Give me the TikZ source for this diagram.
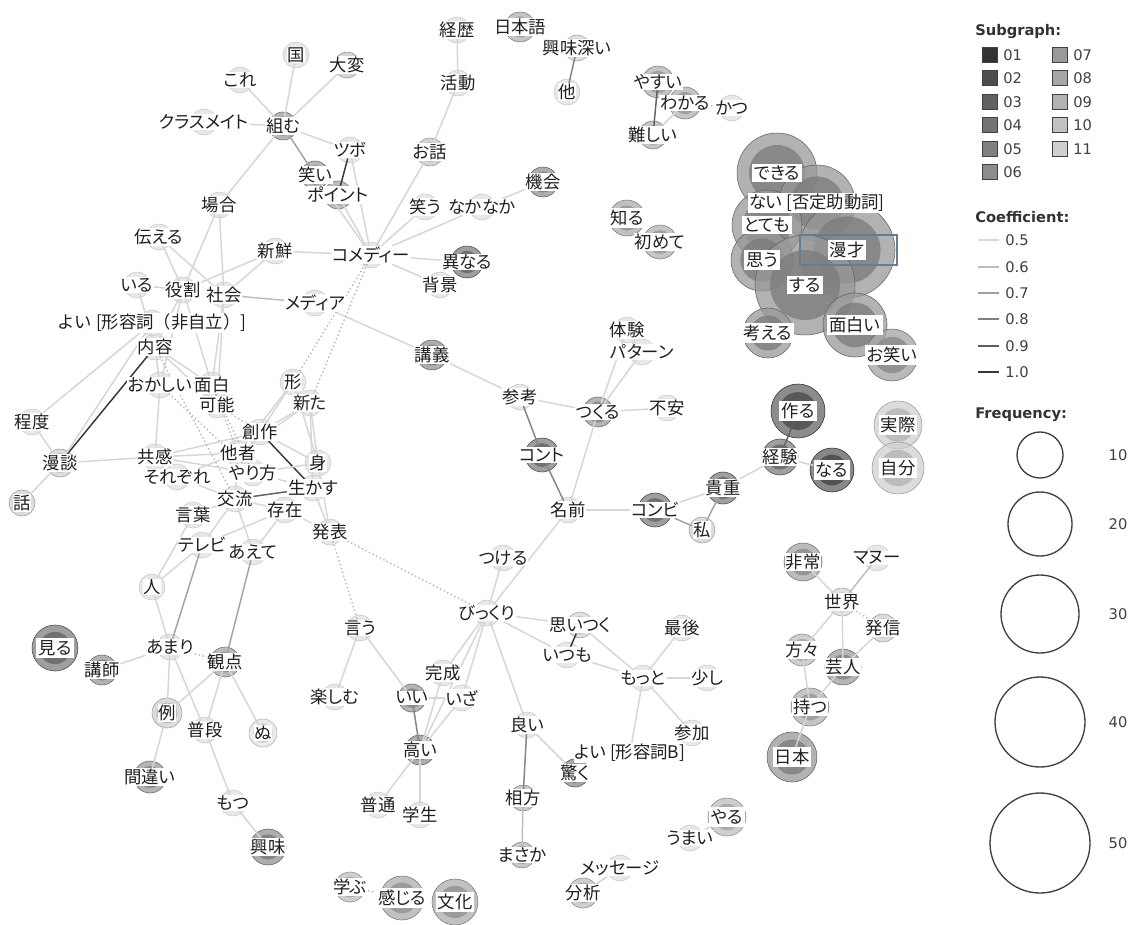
\documentclass[tikz,border=0pt]{standalone}
\usepackage{fontspec}
\newfontfamily\jp[RawFeature=+palt]{Noto Sans CJK JP}
\newfontfamily\jpw{Noto Sans CJK JP}
\newfontfamily\legf{DejaVu Sans}
\pgfdeclarelayer{bg}
\pgfdeclarelayer{bub}
\pgfdeclarelayer{edg}
\pgfsetlayers{bg,bub,edg,main}
\newcommand\bub[3]{%
  \pgfmathtruncatemacro\bubin{min(#3+12,92)}%
  \pgfmathtruncatemacro\bubln{min(#3+22,92)}%
  \fill[black!#3,fill opacity=.75] (#1.center) circle (#2);%
  \fill[black!\bubin,fill opacity=.75] (#1.center) circle ({0.7*#2});%
  \draw[black!\bubln,line width=.4pt] (#1.center) circle (#2);}
\newcommand\fbub[2]{%
  \fill[black!9] (#1.center) circle (#2);%
  \draw[black!22,line width=.4pt] (#1.center) circle (#2);}
\begin{document}
\begin{tikzpicture}[x=0.75pt,y=-0.75pt,
  lbl/.style={font=\jp\fontsize{13}{15}\selectfont,fill=white,inner sep=0.6pt,text=black!88},
  blbl/.style={lbl,inner sep=1.6pt},
  ec5/.style={draw=black!16,line width=1.1pt},
  ec6/.style={draw=black!26,line width=1.1pt},
  ec7/.style={draw=black!36,line width=1.1pt},
  ec8/.style={draw=black!48,line width=1.1pt},
  ec9/.style={draw=black!62,line width=1.1pt},
  ec10/.style={draw=black!78,line width=1.1pt},
  edot/.style={draw=black!30,line width=1pt,dotted},
  ltitle/.style={font=\legf\bfseries\fontsize{11}{13}\selectfont,text=black!80,anchor=west,inner sep=0pt},
  ltext/.style={font=\legf\fontsize{11}{13}\selectfont,text=black!75,anchor=west,inner sep=0pt},
  sq/.style={draw=black!75,line width=0.6pt,minimum size=11.5pt,inner sep=0pt},
  fq/.style={draw=black!75,line width=1pt}]
\useasboundingbox (0,0) rectangle (1130,924);
\begin{pgfonlayer}{bg}
\fill[white] (0,0) rectangle (1130,924);
\end{pgfonlayer}

% ---------------- labels ----------------
\node[lbl] (kore) at (240,80) {これ};
\node[lbl] (kuni) at (296,55) {国};
\node[lbl] (taihen) at (347,65) {大変};
\node[lbl] (class) at (204,122) {クラスメイト};
\node[lbl] (kumu) at (283,126) {組む};
\node[lbl] (tsubo) at (350,150) {ツボ};
\node[lbl] (warai) at (315,175) {笑い};
\node[lbl] (point) at (338,195) {ポイント};
\node[lbl] (baai) at (219,205) {場合};
\node[lbl] (tsutaeru) at (159,237) {伝える};
\node[lbl] (shinsen) at (275,251) {新鮮};
\node[lbl] (comedy) at (371,255) {コメディー};
\node[lbl] (iru) at (137,285) {いる};
\node[lbl] (yakuwari) at (183,290) {役割};
\node[lbl] (shakai) at (224,295) {社会};
\node[lbl] (media) at (315,303) {メディア};
\node[lbl,font=\jpw\fontsize{13}{15}\selectfont] (yoi1) at (152,323) {よい [形容詞（非自立）]};
\node[lbl] (naiyou) at (155,347) {内容};
\node[lbl] (okashii) at (160,385) {おかしい};
\node[lbl] (omoshiro) at (212,385) {面白};
\node[lbl] (kanou) at (217,405) {可能};
\node[lbl] (katachi) at (293,382) {形};
\node[lbl] (arata) at (310,403) {新た};
\node[lbl] (sousaku) at (260,432) {創作};
\node[lbl] (teido) at (32,422) {程度};
\node[lbl] (mandan) at (60,463) {漫談};
\node[lbl] (hanashi) at (22,503) {話};
\node[lbl] (kyoukan) at (155,457) {共感};
\node[lbl] (sorezore) at (177,477) {それぞれ};
\node[lbl] (tasha) at (238,453) {他者};
\node[lbl] (yarikata) at (253,473) {やり方};
\node[lbl] (mi) at (318,463) {身};
\node[lbl] (ikasu) at (313,488) {生かす};
\node[lbl] (kouryu) at (235,499) {交流};
\node[lbl] (sonzai) at (285,510) {存在};
\node[lbl] (kotoba) at (193,515) {言葉};
\node[lbl] (happyou) at (330,532) {発表};
\node[lbl] (terebi) at (202,545) {テレビ};
\node[lbl] (aete) at (253,552) {あえて};
\node[lbl] (hito) at (152,587) {人};
\node[lbl] (amari) at (170,647) {あまり};
\node[lbl] (kanten) at (225,662) {観点};
\node[blbl] (miru) at (55,648) {見る};
\node[lbl] (koushi) at (102,670) {講師};
\node[lbl] (rei) at (167,713) {例};
\node[lbl] (fudan) at (205,730) {普段};
\node[lbl] (nu) at (263,733) {ぬ};
\node[lbl] (machigai) at (150,777) {間違い};
\node[lbl] (motsu) at (233,803) {もつ};
\node[lbl] (kyoumi) at (268,847) {興味};
\node[lbl] (manabu) at (350,887) {学ぶ};
\node[blbl] (kanjiru) at (402,898) {感じる};
\node[blbl] (bunka) at (455,902) {文化};
\node[lbl] (tanoshimu) at (335,697) {楽しむ};
\node[lbl] (iu) at (360,628) {言う};

\node[lbl] (keireki) at (457,30) {経歴};
\node[lbl] (nihongo) at (520,27) {日本語};
\node[lbl] (kyoumibukai) at (577,48) {興味深い};
\node[lbl] (hoka) at (567,92) {他};
\node[lbl] (katsudou) at (458,83) {活動};
\node[lbl] (ohanashi) at (430,152) {お話};
\node[lbl] (kikai) at (543,182) {機会};
\node[lbl] (warau) at (425,207) {笑う};
\node[lbl] (nakanaka) at (482,207) {なかなか};
\node[lbl] (kotonaru) at (467,262) {異なる};
\node[lbl] (haikei) at (440,285) {背景};
\node[lbl] (yasui) at (658,82) {やすい};
\node[lbl] (wakaru) at (685,103) {わかる};
\node[lbl] (katsu) at (732,108) {かつ};
\node[lbl] (muzukashii) at (653,135) {難しい};
\node[blbl] (shiru) at (627,218) {知る};
\node[lbl] (hajimete) at (660,242) {初めて};
\node[lbl] (kougi) at (432,355) {講義};
\node[lbl] (sankou) at (520,397) {参考};
\node[lbl] (taiken) at (627,330) {体験};
\node[lbl] (pattern) at (642,352) {パターン};
\node[lbl] (tsukuru) at (598,412) {つくる};
\node[lbl] (fuan) at (667,408) {不安};
\node[lbl] (conte) at (542,455) {コント};
\node[lbl] (namae) at (568,510) {名前};
\node[lbl] (combi) at (655,510) {コンビ};
\node[lbl] (kichou) at (723,488) {貴重};
\node[lbl] (watashi) at (702,530) {私};
\node[lbl] (tsukeru) at (503,558) {つける};
\node[lbl] (bikkuri) at (487,613) {びっくり};
\node[lbl] (omoitsuku) at (580,625) {思いつく};
\node[lbl] (itsumo) at (567,655) {いつも};
\node[lbl] (saigo) at (682,628) {最後};
\node[lbl] (motto) at (643,678) {もっと};
\node[lbl] (sukoshi) at (707,678) {少し};
\node[lbl] (kansei) at (443,673) {完成};
\node[lbl] (ii) at (412,698) {いい};
\node[lbl] (iza) at (462,698) {いざ};
\node[lbl] (takai) at (420,750) {高い};
\node[lbl] (yoi2) at (527,725) {良い};
\node[lbl] (sanka) at (692,733) {参加};
\node[lbl] (yoib) at (630,753) {よい [形容詞B]};
\node[lbl] (odoroku) at (575,773) {驚く};
\node[lbl] (aikata) at (523,798) {相方};
\node[lbl] (futsuu) at (378,805) {普通};
\node[lbl] (gakusei) at (420,815) {学生};
\node[lbl] (masaka) at (522,855) {まさか};
\node[blbl] (yaru) at (727,817) {やる};
\node[lbl] (umai) at (690,838) {うまい};
\node[lbl] (message) at (620,868) {メッセージ};
\node[lbl] (bunseki) at (583,893) {分析};

\node[blbl] (dekiru) at (777,173) {できる};
\node[lbl] (nai) at (817,203) {ない [否定助動詞]};
\node[blbl] (totemo) at (767,225) {とても};
\node[blbl] (manzai) at (847,250) {漫才};
\node[blbl] (omou) at (762,260) {思う};
\node[blbl] (suru) at (805,285) {する};
\node[blbl] (kangaeru) at (768,333) {考える};
\node[blbl] (omoshiroi) at (855,325) {面白い};
\node[blbl] (owarai) at (892,355) {お笑い};
\node[blbl] (tsukuru2) at (798,411) {作る};
\node[lbl] (keiken) at (780,457) {経験};
\node[blbl] (naru) at (832,470) {なる};
\node[blbl] (jissai) at (898,425) {実際};
\node[blbl] (jibun) at (898,468) {自分};
\node[lbl] (hijou) at (803,562) {非常};
\node[lbl] (manu) at (877,558) {マヌー};
\node[lbl] (sekai) at (842,602) {世界};
\node[lbl] (hasshin) at (883,628) {発信};
\node[lbl] (katagata) at (802,650) {方々};
\node[lbl] (geinin) at (843,667) {芸人};
\node[lbl] (motsu2) at (810,707) {持つ};
\node[blbl] (nihon) at (792,757) {日本};

% ---------------- bubbles ----------------
\begin{pgfonlayer}{bub}
\foreach \n in {kore,kuni,class,tsubo,baai,tsutaeru,shinsen,comedy,iru,yakuwari,shakai,media,naiyou,okashii,omoshiro,kanou,katachi,arata,sousaku,teido,kyoukan,sorezore,tasha,yarikata,mi,ikasu,kouryu,sonzai,kotoba,happyou,terebi,aete,hito,amari,fudan,motsu,tanoshimu,iu,keireki,hoka,katsudou,warau,nakanaka,haikei,sankou,taiken,pattern,fuan,namae,tsukeru,bikkuri,itsumo,saigo,motto,sukoshi,kansei,iza,yoi2,sanka,futsuu,gakusei,umai,message,manu,katsu}{\fbub{\n}{13}}
\fbub{yoi1}{13}
\bub{taihen}{13}{22}
\bub{kumu}{14}{38}
\bub{warai}{14}{38}
\bub{point}{14}{34}
\bub{mandan}{14}{18}
\bub{hanashi}{13}{18}
\bub{kanten}{15}{35}
\bub{miru}{23}{50}
\bub{koushi}{15}{40}
\bub{rei}{15}{18}
\bub{nu}{14}{10}
\bub{machigai}{16}{38}
\bub{kyoumi}{18}{42}
\bub{manabu}{15}{25}
\bub{kanjiru}{22}{32}
\bub{bunka}{23}{32}
\bub{nihongo}{15}{30}
\bub{kyoumibukai}{13}{16}
\bub{ohanashi}{14}{22}
\bub{kikai}{15}{42}
\bub{kotonaru}{16}{50}
\bub{yasui}{16}{30}
\bub{wakaru}{16}{30}
\bub{muzukashii}{14}{30}
\bub{shiru}{18}{32}
\bub{hajimete}{17}{30}
\bub{kougi}{15}{42}
\bub{tsukuru}{15}{38}
\bub{conte}{17}{50}
\bub{combi}{17}{50}
\bub{kichou}{16}{50}
\bub{watashi}{13}{18}
\bub{omoitsuku}{13}{16}
\bub{ii}{14}{38}
\bub{takai}{15}{42}
\bub{odoroku}{14}{45}
\bub{aikata}{13}{28}
\bub{masaka}{13}{28}
\bub{yaru}{19}{25}
\bub{bunseki}{15}{25}
\bub{dekiru}{40}{40}
\bub{nai}{38}{40}
\bub{totemo}{35}{40}
\bub{manzai}{48}{40}
\bub{omou}{31}{40}
\bub{suru}{50}{40}
\bub{kangaeru}{25}{40}
\bub{omoshiroi}{32}{40}
\bub{owarai}{26}{36}
\bub{tsukuru2}{27}{60}
\bub{keiken}{18}{50}
\bub{naru}{22}{62}
\bub{jissai}{24}{18}
\bub{jibun}{26}{18}
\bub{hijou}{19}{35}
\bub{sekai}{14}{15}
\bub{hasshin}{14}{18}
\bub{katagata}{16}{25}
\bub{geinin}{18}{38}
\bub{motsu2}{19}{30}
\bub{nihon}{25}{40}
\end{pgfonlayer}
\draw[draw={rgb,255:red,100;green,124;blue,148},line width=0.8pt] (800,235) rectangle (897,265);

% ---------------- edges ----------------
\begin{pgfonlayer}{edg}
\draw[ec5] (kumu) -- (kore);
\draw[ec5] (kumu) -- (kuni);
\draw[ec5] (kumu) -- (taihen);
\draw[ec5] (kumu) -- (class);
\draw[ec5] (kumu) -- (tsubo);
\draw[ec7] (kumu) -- (warai);
\draw[ec5] (kumu) -- (baai);
\draw[ec10] (tsubo) -- (point);
\draw[ec5] (tsubo) -- (comedy);
\draw[ec5] (warai) -- (comedy);
\draw[ec5] (point) -- (comedy);
\draw[ec5] (baai) -- (yakuwari);
\draw[ec5] (baai) -- (shakai);
\draw[ec5] (tsutaeru) -- (yakuwari);
\draw[ec5] (tsutaeru) -- (shakai);
\draw[ec5] (shinsen) -- (yakuwari);
\draw[ec5] (shinsen) -- (shakai);
\draw[ec5] (shinsen) -- (comedy);
\draw[ec5] (iru) -- (yakuwari);
\draw[ec6] (shakai) -- (media);
\draw[ec5] (comedy) -- (ohanashi);
\draw[ec5] (comedy) -- (warau);
\draw[ec5] (comedy) -- (nakanaka);
\draw[ec5] (comedy) -- (kotonaru);
\draw[ec5] (comedy) -- (haikei);
\draw[ec5] (ohanashi) -- (katsudou);
\draw[ec5] (katsudou) -- (keireki);
\draw[ec5] (nakanaka) -- (kikai);
\draw[ec8] (kyoumibukai) -- (hoka);
\draw[ec9] (yasui) -- (muzukashii);
\draw[ec5] (muzukashii) -- (wakaru);
\draw[edot] (wakaru) -- (katsu);
\draw[ec5] (media) -- (kougi);
\draw[ec5] (kougi) -- (sankou);
\draw[ec5] (sankou) -- (tsukuru);
\draw[ec8] (sankou) -- (conte);
\draw[ec5] (tsukuru) -- (taiken);
\draw[ec5] (tsukuru) -- (pattern);
\draw[ec5] (tsukuru) -- (fuan);
\draw[ec5] (tsukuru) -- (namae);
\draw[ec8] (conte) -- (namae);
\draw[ec5] (namae) -- (combi);
\draw[ec5] (namae) -- (bikkuri);
\draw[ec5] (tsukeru) -- (bikkuri);
\draw[ec5] (combi) -- (kichou);
\draw[ec7] (combi) -- (watashi);
\draw[ec7] (kichou) -- (watashi);
\draw[ec5] (kichou) -- (keiken);
\draw[ec9] (keiken) -- (tsukuru2);
\draw[ec5] (keiken) -- (naru);
\draw[ec5] (bikkuri) -- (omoitsuku);
\draw[ec5] (bikkuri) -- (itsumo);
\draw[ec5] (bikkuri) -- (kansei);
\draw[ec5] (bikkuri) -- (takai);
\draw[ec5] (bikkuri) -- (iza);
\draw[ec5] (bikkuri) -- (yoi2);
\draw[ec10] (omoitsuku) -- (itsumo);
\draw[ec5] (omoitsuku) -- (motto);
\draw[ec5] (itsumo) -- (motto);
\draw[ec5] (motto) -- (saigo);
\draw[ec5] (motto) -- (sukoshi);
\draw[ec5] (motto) -- (sanka);
\draw[ec5] (motto) -- (yoib);
\draw[ec5] (kansei) -- (takai);
\draw[ec5] (iza) -- (takai);
\draw[ec5] (ii) -- (iza);
\draw[ec8] (ii) -- (takai);
\draw[ec5] (iu) -- (ii);
\draw[ec5] (iu) -- (tanoshimu);
\draw[ec5] (takai) -- (futsuu);
\draw[ec5] (takai) -- (gakusei);
\draw[ec8] (yoi2) -- (aikata);
\draw[ec5] (yoi2) -- (odoroku);
\draw[ec6] (aikata) -- (masaka);
\draw[ec5] (umai) -- (yaru);
\draw[ec5] (message) -- (bunseki);
\draw[edot] (manabu) -- (kanjiru);
\draw[ec5] (sekai) -- (katagata);
\draw[ec5] (sekai) -- (hijou);
\draw[ec6] (sekai) -- (manu);
\draw[ec5] (sekai) -- (geinin);
\draw[edot] (sekai) -- (hasshin);
\draw[ec5] (hasshin) -- (geinin);
\draw[ec5] (geinin) -- (motsu2);
\draw[ec5] (katagata) -- (motsu2);
\draw[ec5] (motsu2) -- (nihon);
% left
\draw[ec10] (naiyou) -- (mandan);
\draw[ec5] (yoi1) -- (mandan);
\draw[ec5] (yoi1) -- (teido);
\draw[ec5] (teido) -- (mandan);
\draw[ec5] (mandan) -- (hanashi);
\draw[ec5] (mandan) -- (kyoukan);
\draw[ec5] (iru) -- (naiyou);
\draw[ec5] (yakuwari) -- (naiyou);
\draw[ec5] (yakuwari) -- (okashii);
\draw[ec5] (yakuwari) -- (omoshiro);
\draw[ec5] (shakai) -- (omoshiro);
\draw[ec5] (shakai) -- (kanou);
\draw[ec5] (naiyou) -- (okashii);
\draw[ec5] (naiyou) -- (omoshiro);
\draw[ec5] (naiyou) -- (kanou);
\draw[ec5] (okashii) -- (kyoukan);
\draw[ec5] (kyoukan) -- (tasha);
\draw[ec5] (kyoukan) -- (sousaku);
\draw[ec5] (kyoukan) -- (yarikata);
\draw[ec5] (sorezore) -- (kouryu);
\draw[ec5] (sorezore) -- (tasha);
\draw[ec5] (tasha) -- (katachi);
\draw[ec5] (tasha) -- (arata);
\draw[ec5] (tasha) -- (kouryu);
\draw[ec5] (sousaku) -- (katachi);
\draw[ec5] (sousaku) -- (arata);
\draw[ec5] (sousaku) -- (mi);
\draw[ec10] (sousaku) -- (ikasu);
\draw[ec5] (yarikata) -- (mi);
\draw[ec5] (yarikata) -- (ikasu);
\draw[ec9] (kouryu) -- (ikasu);
\draw[ec5] (kouryu) -- (sonzai);
\draw[ec5] (kouryu) -- (kotoba);
\draw[ec5] (kouryu) -- (terebi);
\draw[ec5] (kouryu) -- (aete);
\draw[ec5] (katachi) -- (mi);
\draw[ec5] (arata) -- (mi);
\draw[ec5] (arata) -- (ikasu);
\draw[ec5] (sonzai) -- (happyou);
\draw[ec5] (mi) -- (happyou);
\draw[ec5] (ikasu) -- (happyou);
\draw[ec5] (sonzai) -- (terebi);
\draw[ec5] (sonzai) -- (aete);
\draw[ec5] (kotoba) -- (hito);
\draw[ec5] (terebi) -- (hito);
\draw[ec7] (terebi) -- (amari);
\draw[ec5] (hito) -- (amari);
\draw[ec7] (aete) -- (kanten);
\draw[edot] (comedy) -- (katachi);
\draw[edot] (comedy) -- (arata);
\draw[edot] (okashii) -- (yarikata);
\draw[edot] (omoshiro) -- (tasha);
\draw[edot] (kanou) -- (sousaku);
\draw[edot] (naiyou) -- (kouryu);
\draw[edot] (omoshiro) -- (yarikata);
\draw[edot] (happyou) -- (bikkuri);
\draw[edot] (happyou) -- (iu);
\draw[ec5] (amari) -- (koushi);
\draw[edot] (amari) -- (kanten);
\draw[ec5] (amari) -- (rei);
\draw[ec5] (amari) -- (fudan);
\draw[ec5] (kanten) -- (rei);
\draw[ec5] (kanten) -- (fudan);
\draw[ec5] (kanten) -- (nu);
\draw[ec5] (rei) -- (machigai);
\draw[ec5] (fudan) -- (motsu);
\draw[ec5] (motsu) -- (kyoumi);
\end{pgfonlayer}

% ---------------- legend ----------------
\node[ltitle] (tsub) at (975,32) {Subgraph:};
\node[sq,fill=black!80] (s01) at (990,55) {};  \node[ltext] (t01) at (1003,55) {01};
\node[sq,fill=black!70] (s02) at (990,78) {};  \node[ltext] (t02) at (1003,78) {02};
\node[sq,fill=black!62] (s03) at (990,102) {}; \node[ltext] (t03) at (1003,102) {03};
\node[sq,fill=black!55] (s04) at (990,125) {}; \node[ltext] (t04) at (1003,125) {04};
\node[sq,fill=black!50] (s05) at (990,149) {}; \node[ltext] (t05) at (1003,149) {05};
\node[sq,fill=black!45] (s06) at (990,172) {}; \node[ltext] (t06) at (1003,172) {06};
\node[sq,fill=black!40] (s07) at (1060,55) {}; \node[ltext] (t07) at (1073,55) {07};
\node[sq,fill=black!35] (s08) at (1060,78) {}; \node[ltext] (t08) at (1073,78) {08};
\node[sq,fill=black!30] (s09) at (1060,102) {};\node[ltext] (t09) at (1073,102) {09};
\node[sq,fill=black!24] (s10) at (1060,125) {};\node[ltext] (t10) at (1073,125) {10};
\node[sq,fill=black!19] (s11) at (1060,149) {};\node[ltext] (t11) at (1073,149) {11};

\node[ltitle] (tcoef) at (975,217) {Coefficient:};
\draw[black!15,line width=1.4pt] (978,240) -- (999,240); \node[ltext] (c05) at (1005,240) {0.5};
\draw[black!26,line width=1.4pt] (978,267) -- (999,267); \node[ltext] (c06) at (1005,267) {0.6};
\draw[black!37,line width=1.4pt] (978,293) -- (999,293); \node[ltext] (c07) at (1005,293) {0.7};
\draw[black!50,line width=1.4pt] (978,319) -- (999,319); \node[ltext] (c08) at (1005,319) {0.8};
\draw[black!63,line width=1.4pt] (978,346) -- (999,346); \node[ltext] (c09) at (1005,346) {0.9};
\draw[black!78,line width=1.4pt] (978,372) -- (999,372); \node[ltext] (c10) at (1005,372) {1.0};

\node[ltitle] (tfreq) at (975,415) {Frequency:};
\draw[fq] (1040,455) circle (23); \node[ltext,anchor=center] (f10) at (1118,455) {10};
\draw[fq] (1040,524) circle (32); \node[ltext,anchor=center] (f20) at (1118,524) {20};
\draw[fq] (1040,614) circle (39); \node[ltext,anchor=center] (f30) at (1118,614) {30};
\draw[fq] (1040,722) circle (45); \node[ltext,anchor=center] (f40) at (1118,722) {40};
\draw[fq] (1040,843) circle (50); \node[ltext,anchor=center] (f50) at (1118,843) {50};
\end{tikzpicture}
\end{document}
